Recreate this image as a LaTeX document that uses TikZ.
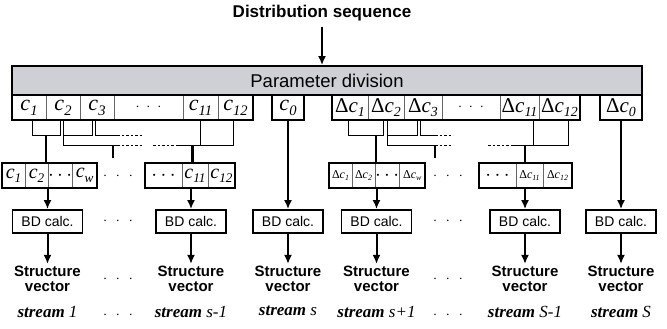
\documentclass[tikz,border=0pt]{standalone}
\usepackage{fontspec}
\usepackage{graphicx}
\setmainfont{Liberation Serif}
\setsansfont{Liberation Sans}
\usetikzlibrary{arrows.meta,positioning,fit,calc}

\definecolor{bargray}{RGB}{207,208,213}
\newcommand{\csub}[1]{\textit{c}\raisebox{-0.22em}{\scalebox{0.66}{\textit{#1}}}}
\newcommand{\sdots}{{\fontsize{14}{14}\selectfont$\cdot$\hspace{7pt}$\cdot$\hspace{7pt}$\cdot$}}
\newcommand{\bdots}{$\cdot$\hspace{9pt}$\cdot$\hspace{9pt}$\cdot$}

\begin{document}
\begin{tikzpicture}[x=1pt, y=-1pt,
  cell/.style={draw=black!60, line width=0.5pt, inner sep=0pt, outer sep=0pt, minimum height=25pt},
  big/.style={font=\fontsize{22}{22}\selectfont},
  bigd/.style={font=\fontsize{21}{21}\selectfont},
  small/.style={font=\fontsize{20}{20}\selectfont},
  tiny/.style={font=\fontsize{12}{12}\selectfont},
  grp/.style={draw, line width=2pt, inner sep=0pt},
  single/.style={cell, draw=black, line width=2pt},
  bar/.style={draw, line width=1.8pt, fill=bargray, inner sep=0pt, minimum width=630pt, minimum height=29pt, font=\sffamily\fontsize{18.5}{18.5}\selectfont},
  ttl/.style={inner sep=0pt, font=\sffamily\bfseries\fontsize{17}{17}\selectfont},
  bdbox/.style={draw, line width=1.8pt, inner sep=0pt, minimum width=70pt, minimum height=23pt, font=\sffamily\fontsize{14}{14}\selectfont},
  sv/.style={align=center, inner sep=2pt, font=\sffamily\bfseries\fontsize{15}{15}\selectfont},
  strm/.style={inner sep=2pt, font=\fontsize{17}{17}\selectfont},
  gapdots/.style={inner sep=0pt, font=\fontsize{14}{14}\selectfont},
  wire/.style={line width=1pt},
  dwire/.style={line width=1pt, dash pattern=on 2.5pt off 2pt},
  stub/.style={line width=2.5pt},
  arr/.style={-{Latex[length=9pt,width=8pt]}, line width=2pt}
]
\useasboundingbox (0,0) rectangle (667,329);

% input and division bar
\node[bar] (pd) at (327,80.5) {Parameter division};
\node[ttl, anchor=base] (seq) at (322,18) {Distribution sequence};
\draw[arr, shorten <=5pt] (seq.south) -- (seq.south |- pd.north);

% parameter cells (left group)
\node[cell, big, minimum width=34pt] (c1) at (29,107.5) {\csub{1}};
\node[cell, big, minimum width=34pt, right=0pt of c1] (c2) {\csub{2}};
\node[cell, big, minimum width=34pt, right=0pt of c2] (c3) {\csub{3}};
\node[cell, big, minimum width=69pt, right=0pt of c3] (cd) {\sdots};
\node[cell, big, minimum width=35pt, right=0pt of cd] (c11) {\csub{11}};
\node[cell, big, minimum width=35pt, right=0pt of c11] (c12) {\csub{12}};
\node[grp, fit=(c1)(c12)] (cgrp) {};
\node[single, big, minimum width=32pt] (c0) at (288,107.5) {\csub{0}};

% parameter cells (right group)
\node[cell, bigd, minimum width=36pt] (dc1) at (350,107.5) {Δ\csub{1}};
\node[cell, bigd, minimum width=36pt, right=0pt of dc1] (dc2) {Δ\csub{2}};
\node[cell, bigd, minimum width=38pt, right=0pt of dc2] (dc3) {Δ\csub{3}};
\node[cell, bigd, minimum width=58pt, right=0pt of dc3] (dcd) {\sdots};
\node[cell, bigd, minimum width=39pt, right=0pt of dcd] (dc11) {Δ\csub{11}};
\node[cell, bigd, minimum width=41pt, right=0pt of dc11] (dc12) {Δ\csub{12}};
\node[grp, fit=(dc1)(dc12)] (dgrp) {};
\node[single, bigd, minimum width=42pt] (dc0) at (621,107.5) {Δ\csub{0}};

% window boxes
\node[cell, small, minimum width=23pt] (a1) at (13.5,175.5) {\csub{1}};
\node[cell, small, minimum width=23pt, right=0pt of a1] (a2) {\csub{2}};
\node[cell, small, minimum width=22pt, right=0pt of a2] (a3) {$\cdots$};
\node[cell, small, minimum width=25pt, right=0pt of a3] (aw) {\csub{w}};
\node[grp, fit=(a1)(aw)] (wa) {};

\node[cell, small, minimum width=37pt] (b1) at (163.5,175.5) {$\cdots$};
\node[cell, small, minimum width=26pt, right=0pt of b1] (b11) {\csub{11}};
\node[cell, small, minimum width=27pt, right=0pt of b11] (b12) {\csub{12}};
\node[grp, fit=(b1)(b12)] (wb) {};

\node[cell, tiny, minimum width=23pt] (e1) at (340.5,175.5) {Δ\csub{1}};
\node[cell, tiny, minimum width=23pt, right=0pt of e1] (e2) {Δ\csub{2}};
\node[cell, small, minimum width=23pt, right=0pt of e2] (e3) {$\cdots$};
\node[cell, tiny, minimum width=26pt, right=0pt of e3] (ew) {Δ\csub{w}};
\node[grp, fit=(e1)(ew)] (wd) {};

\node[cell, small, minimum width=37pt] (f1) at (497.5,175.5) {$\cdots$};
\node[cell, tiny, minimum width=27pt, right=0pt of f1] (f11) {Δ\csub{11}};
\node[cell, tiny, minimum width=29pt, right=0pt of f11] (f12) {Δ\csub{12}};
\node[grp, fit=(f1)(f12)] (wf) {};

% wiring, left group
\draw[wire] ([xshift=3pt]c1.south) -- ++(0,15) -| ([xshift=-3pt]c2.south);
\coordinate (j1) at ($(c1.south)!0.5!(c2.south)+(0,15)$);
\draw[stub] (j1) -- (j1 |- wa.north);
\draw[wire] (c2.south) -- ++(0,25) -- ++(54,0) coordinate (k1);
\draw[dwire] (k1) -- ++(26,0);
\draw[wire] ($(c2.south)+(0,15)$) -| ([xshift=-5pt]c3.south);
\coordinate (j2) at ($(k1)+(-4,0)$);
\draw[stub] (j2) -- ++(0,13);
\draw[wire] ([xshift=-2pt]c3.south) -- ++(0,15) -- ++(22,0) coordinate (k2);
\draw[dwire] (k2) -- ++(26,0);
\draw[wire] ([xshift=-2.5pt]c12.south) -- ++(0,25) -- ++(-55,0) coordinate (k3);
\draw[wire] (c11.south) -- ++(0,25);
\draw[dwire] (k3) -- ++(-25,0);
\coordinate (j3) at ($(c11.south)+(-8,25)$);
\draw[stub] (j3) -- (j3 |- wb.north);

% wiring, right group
\draw[wire] ([xshift=-2pt]dc1.south) -- ++(0,15) -| ([xshift=-3pt]dc2.south);
\coordinate (j4) at ($(dc2.south)+(-10,15)$);
\draw[stub] (j4) -- (j4 |- wd.north);
\draw[wire] ([xshift=1pt]dc2.south) -- ++(0,25) -- ++(48,0) coordinate (k4);
\draw[dwire] (k4) -- ++(18,0);
\draw[wire] ($(dc2.south)+(1,15)$) -| ([xshift=-6pt]dc3.south);
\draw[stub] (k4) -- ++(0,13);
\draw[wire] ([xshift=-3pt]dc3.south) -- ++(0,15) -- ++(15,0) coordinate (k5);
\draw[dwire] (k5) -- ++(18,0);
\draw[wire] ([xshift=8.5pt]dc12.south) -- ++(0,25) -- ++(-55,0) coordinate (k6);
\draw[wire] ([xshift=14pt]dc11.south) -- ++(0,25);
\draw[dwire] (k6) -- ++(-25,0);
\coordinate (j6) at ($(dc11.south)+(5.5,25)$);
\draw[stub] (j6) -- (j6 |- wf.north);

% BD calculation per stream
\node[bdbox] (bd1) at (47.5,221.5) {BD calc.};
\node[bdbox] (bd2) at (191,221.5) {BD calc.};
\node[bdbox] (bd3) at (288,221.5) {BD calc.};
\node[bdbox] (bd4) at (376.5,221.5) {BD calc.};
\node[bdbox] (bd5) at (525,221.5) {BD calc.};
\node[bdbox] (bd6) at (621,221.5) {BD calc.};
\draw[arr] (wa.south -| bd1) -- (bd1);
\draw[arr] (wb.south -| bd2) -- (bd2);
\draw[arr] (c0) -- (bd3);
\draw[arr] (wd.south -| bd4) -- (bd4);
\draw[arr] (wf.south -| bd5) -- (bd5);
\draw[arr] (dc0) -- (bd6);

% structure vectors and stream labels
\foreach \i/\s in {1/1, 2/s-1, 3/s, 4/s+1, 5/S-1, 6/S}{
  \node[sv, below=30pt of bd\i] (sv\i) {Structure\\vector};
  \draw[arr] (bd\i) -- (sv\i);
  \node[strm, below=10pt of sv\i] (st\i) {\textbf{\textit{stream}} \textit{\s}};
}

% skipped streams
\node[gapdots] (g1) at (118,176) {\bdots};
\node[gapdots] (g2) at (118,221.5) {\bdots};
\node[gapdots] (g3) at (118,279) {\bdots};
\node[gapdots] (g4) at (118,315) {\bdots};
\node[gapdots] (h1) at (448,176) {\bdots};
\node[gapdots] (h2) at (448,221.5) {\bdots};
\node[gapdots] (h3) at (448,279) {\bdots};
\node[gapdots] (h4) at (448,315) {\bdots};

\end{tikzpicture}
\end{document}
